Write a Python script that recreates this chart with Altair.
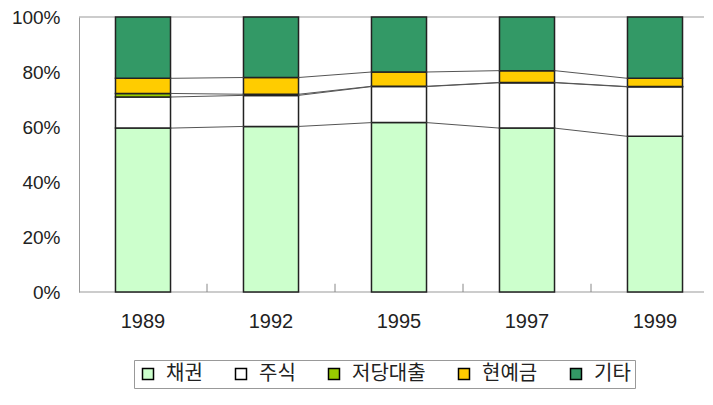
import altair as alt
import pandas as pd

years = ["1989", "1992", "1995", "1997", "1999"]
series = ["채권", "주식", "저당대출", "현예금", "기타"]
colors = ["#CCFFCC", "#FFFFFF", "#99CC00", "#FFCC00", "#339966"]

bonds = [59.6, 60.2, 61.6, 59.6, 56.6]
stocks = [11.3, 11.3, 13.1, 16.5, 18.0]
mortgage = [1.3, 0.4, 0.1, 0.1, 0.1]
cash = [5.5, 6.1, 5.2, 4.3, 3.0]
other = [22.3, 22.0, 20.0, 19.5, 22.3]

values = [bonds, stocks, mortgage, cash, other]

rows = []
for k, s in enumerate(series):
    for i, y in enumerate(years):
        rows.append({"year": y, "series": s, "idx": k, "value": values[k][i]})
df = pd.DataFrame(rows)

# series lines (Excel style) connecting tops of the first four series
cum = []
for i in range(len(years)):
    tot = sum(v[i] for v in values)
    c, acc = [], 0.0
    for k in range(4):
        acc += values[k][i]
        c.append(acc / tot)
    cum.append(c)
lrows = []
for i in range(len(years) - 1):
    for k in range(4):
        lrows.append({"x0": years[i], "x1": years[i + 1], "y0": cum[i][k], "y1": cum[i + 1][k]})
ldf = pd.DataFrame(lrows)

tdf = pd.DataFrame({"year": years[1:]})
frame_df = pd.DataFrame({"v": [0.0, 1.0]})

font = "Liberation Sans"
xscale = alt.Scale(domain=years, paddingInner=0, paddingOuter=0, range=[0, 640])
yscale = alt.Scale(domain=[0, 1])

bars = alt.Chart(df).mark_bar(
    width=alt.RelativeBandSize(0.43), stroke="#222", strokeWidth=1.5
).encode(
    x=alt.X("year:N", scale=xscale, sort=years,
            axis=alt.Axis(title=None, labelAngle=0, labelFontSize=20, labelFont=font,
                          labelColor="#222", labelPadding=19, ticks=False,
                          domain=False)),
    y=alt.Y("value:Q", stack="normalize", scale=yscale,
            axis=alt.Axis(title=None, format=".0%", values=[0, 0.2, 0.4, 0.6, 0.8, 1.0],
                          labelFontSize=19, labelFont=font, labelColor="#222",
                          labelPadding=19, ticks=False, grid=False, domain=True,
                          domainColor="#999", domainWidth=1)),
    color=alt.Color("series:N", scale=alt.Scale(domain=series, range=colors),
                    legend=alt.Legend(title=None, orient="none", direction="horizontal",
                                      legendX=55, legendY=343, labelFontSize=20,
                                      labelFont="Noto Sans CJK KR", labelColor="#222",
                                      symbolType="square", symbolSize=121,
                                      symbolStrokeColor="#000", symbolStrokeWidth=1.5,
                                      columnPadding=28, strokeColor="#999", padding=4,
                                      labelOffset=8)),
    order=alt.Order("idx:Q", sort="ascending"),
)

frame = alt.Chart(frame_df).mark_rule(color="#999", strokeWidth=1).encode(
    y=alt.Y("v:Q", scale=yscale)
)

lines = alt.Chart(ldf).mark_rule(color="#555", strokeWidth=1).encode(
    x=alt.X("x0:N", scale=xscale, sort=years, bandPosition=0.715),
    x2=alt.X2("x1", bandPosition=0.285),
    y=alt.Y("y0:Q", scale=yscale),
    y2="y1:Q",
)

ticks = alt.Chart(tdf).mark_rule(color="#888", strokeWidth=1).encode(
    x=alt.X("year:N", scale=xscale, sort=years, bandPosition=0),
    y=alt.datum(0),
    y2=alt.datum(0.03),
)

chart = alt.layer(frame, bars, lines, ticks).properties(
    width=625, height=275,
    autosize=alt.AutoSizeParams(type="none"),
    padding={"left": 71, "top": 9, "right": 0, "bottom": 100},
).configure_view(stroke=None).configure_axis(title=None)

chart.save("out.html", embed_options={"renderer": "svg", "actions": False})
